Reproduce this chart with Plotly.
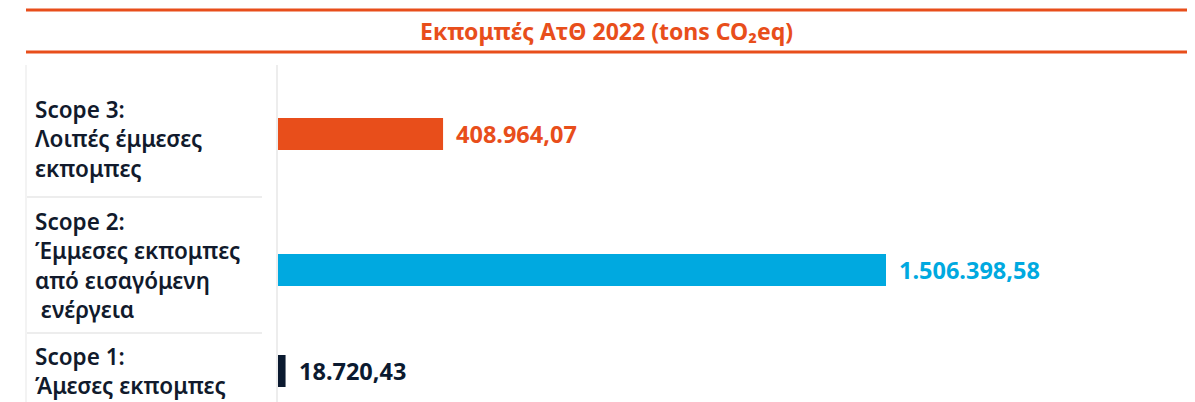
import plotly.graph_objects as go

# ---- data ----
categories = ["Scope 1", "Scope 2", "Scope 3"]
label_lines = [
    ["Scope 1:", "Άμεσες εκπομπες"],
    ["Scope 2:", "Έμμεσες εκπομπες", "από εισαγόμενη", " ενέργεια"],
    ["Scope 3:", "Λοιπές έμμεσες", "εκπομπες"],
]
values = [18720.43, 1506398.58, 408964.07]
title_text = "Εκπομπές ΑτΘ 2022 (tons CO₂eq)"

# ---- style / layout ----
colors = ["#0b1a30", "#00a9e0", "#e84e1b"]
row_pos = [0.0, 1.0, 2.347]          # layout rows (unequal spacing as in reference)
label_yshift = [0, 5, -5]            # small vertical nudges of the row labels (px)
OFF = 8                               # page body margin
W, H = 1195 - OFF, 402 - OFF          # figure size
ORANGE = "#e84e1b"
FONT = "Noto Sans"


def fx(px):
    return (px - OFF) / W


def fy(px):
    return 1 - (px - OFF) / H


def fmt_gr(v):
    s = f"{v:,.2f}"
    return s.replace(",", "X").replace(".", ",").replace("X", ".")


base_px, end_px = 278, 886
PX_PER_ROW = 101
row0_px = 371

fig = go.Figure()
fig.add_trace(go.Bar(
    x=values, y=row_pos, orientation="h",
    marker=dict(color=colors, line=dict(width=0)),
    width=32 / PX_PER_ROW, hoverinfo="skip",
))

xmax = max(values) * (1195 - base_px) / (end_px - base_px)

annotations = []
for v, p, c in zip(values, row_pos, colors):
    annotations.append(dict(
        x=v, y=p, xref="x", yref="y", text=fmt_gr(v), showarrow=False,
        xanchor="left", yanchor="middle", xshift=11,
        font=dict(family=FONT, size=23.5, color=c, weight="bold"),
    ))
for lines, p, ys in zip(label_lines, row_pos, label_yshift):
    annotations.append(dict(
        x=fx(33), y=p, xref="paper", yref="y", text="<br>".join(lines),
        showarrow=False, xanchor="left", yanchor="middle", align="left", yshift=ys,
        font=dict(family=FONT, size=22.5, color="#111a2c", weight=600),
    ))
annotations.append(dict(
    x=fx(607), y=fy(31), xref="paper", yref="paper", text=title_text,
    showarrow=False, xanchor="center", yanchor="middle",
    font=dict(family=FONT, size=23, color=ORANGE, weight="bold"),
))

shapes = [
    dict(type="line", xref="paper", yref="paper", x0=fx(26), x1=1, y0=fy(10), y1=fy(10),
         line=dict(color=ORANGE, width=3)),
    dict(type="line", xref="paper", yref="paper", x0=fx(26), x1=1, y0=fy(52), y1=fy(52),
         line=dict(color=ORANGE, width=3)),
    dict(type="line", xref="paper", yref="paper", x0=fx(26), x1=fx(262), y0=fy(197), y1=fy(197),
         line=dict(color="#ededed", width=2)),
    dict(type="line", xref="paper", yref="paper", x0=fx(26), x1=fx(262), y0=fy(333), y1=fy(333),
         line=dict(color="#ededed", width=2)),
    dict(type="line", xref="paper", yref="paper", x0=fx(277), x1=fx(277), y0=0, y1=fy(65),
         line=dict(color="#ededed", width=2)),
    dict(type="line", xref="paper", yref="paper", x0=fx(26), x1=fx(26), y0=0, y1=fy(65),
         line=dict(color="#f3f3f3", width=2)),
]

fig.update_layout(
    width=W, height=H, margin=dict(l=0, r=0, t=0, b=0),
    paper_bgcolor="white", plot_bgcolor="white", showlegend=False,
    xaxis=dict(domain=[fx(base_px), 1], range=[0, xmax], visible=False, fixedrange=True),
    yaxis=dict(range=[-(402 - row0_px) / PX_PER_ROW, (row0_px - OFF) / PX_PER_ROW],
               visible=False, fixedrange=True),
    annotations=annotations, shapes=shapes,
)
fig.write_html("out.html")
